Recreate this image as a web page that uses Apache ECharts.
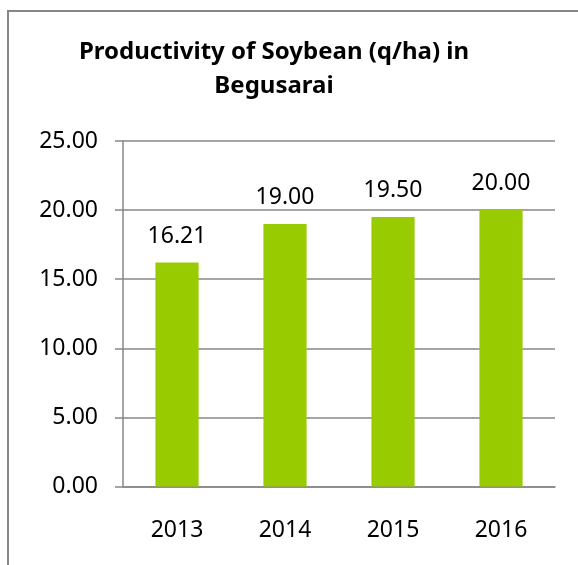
<!DOCTYPE html>
<html><head><meta charset="utf-8">
<script src="https://cdn.jsdelivr.net/npm/echarts@6/dist/echarts.min.js"></script>
<style>html,body{margin:0;padding:0;background:#fff}#c{width:578px;height:565px}</style>
</head><body><div id="c"></div>
<script>
const titleLines = ['Productivity of Soybean (q/ha) in', 'Begusarai'];
const categories = ['2013', '2014', '2015', '2016'];
const values = [16.21, 19.00, 19.50, 20.00];
const yTicks = { min: 0, max: 25, interval: 5 };

const chart = echarts.init(document.getElementById('c'));
const font = 'Noto Sans';
chart.setOption({
  animation: false,
  graphic: [{
    type: 'rect', shape: { x: 8, y: 11, width: 800, height: 800 },
    style: { fill: 'none', stroke: '#878787', lineWidth: 2 }, z: -1
  }],
  title: {
    text: titleLines.join('\n'), left: 269, top: 30, textAlign: 'center',
    textStyle: { fontFamily: font, fontWeight: 'bold', fontSize: 24, lineHeight: 34, color: '#000', align: 'center' }
  },
  grid: { left: 123, right: 23, top: 141, bottom: 78.5 },
  xAxis: {
    type: 'category', data: categories,
    axisLine: { lineStyle: { color: '#878787', width: 1.5 } },
    axisTick: { length: 8, lineStyle: { color: '#878787', width: 1.5 } },
    axisLabel: { fontFamily: font, fontSize: 23, color: '#000', margin: 32 }
  },
  yAxis: {
    type: 'value', min: yTicks.min, max: yTicks.max, interval: yTicks.interval,
    axisLine: { show: true, lineStyle: { color: '#878787', width: 1.5 } },
    axisTick: { show: true, length: 8, lineStyle: { color: '#878787', width: 1.5 } },
    splitLine: { lineStyle: { color: '#878787', width: 1.5 } },
    axisLabel: { fontFamily: font, fontSize: 23, color: '#000', margin: 25, formatter: v => v.toFixed(2) }
  },
  series: [{
    type: 'bar', data: values, barWidth: '40%',
    itemStyle: { color: '#99CC00' },
    label: { show: true, position: 'top', distance: 15, fontFamily: font, fontSize: 23, color: '#000', formatter: p => p.value.toFixed(2) }
  }]
});
</script></body></html>
